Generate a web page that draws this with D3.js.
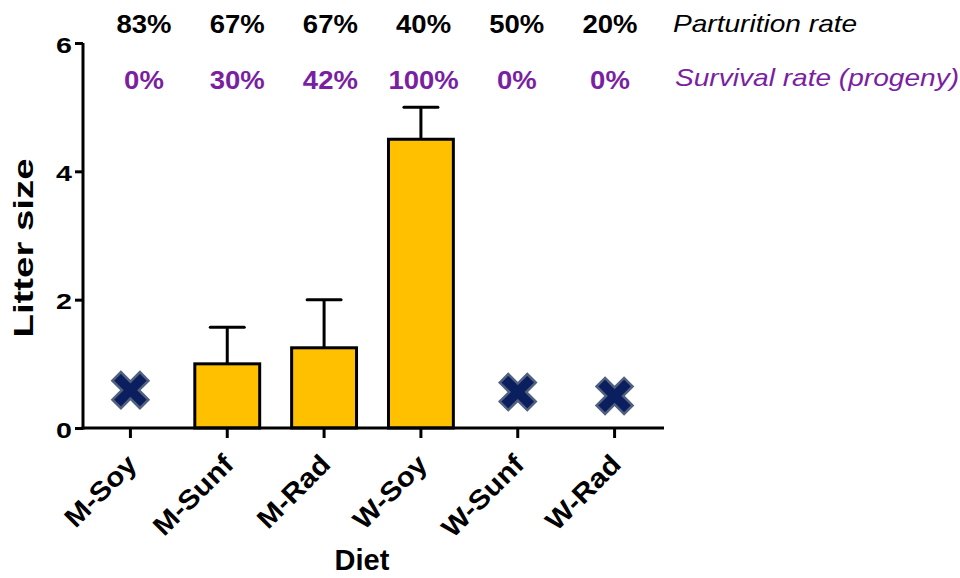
<!DOCTYPE html>
<html><head><meta charset="utf-8">
<script src="https://cdn.jsdelivr.net/npm/d3@7"></script>
<style>body{margin:0;background:#fff;} text{font-family:"Liberation Sans",Arial,sans-serif;}</style>
</head><body><svg id="c" width="960" height="578"></svg>
<script>
const categories = ["M-Soy","M-Sunf","M-Rad","W-Soy","W-Sunf","W-Rad"];
const litterSize = [null, 1.0, 1.25, 4.5, null, null];
const errorUpper = [null, 1.57, 2.0, 5.0, null, null];
const markerValues = [0.59, null, null, null, 0.56, 0.5];
const parturition = ["83%","67%","67%","40%","50%","20%"];
const survival = ["0%","30%","42%","100%","0%","0%"];
const yTicks = [0,2,4,6];

const svg = d3.select("#c");
const x = d3.scaleBand().domain(categories).range([82,663]).paddingInner(0.33).paddingOuter(0.165);
const xc = d => x(d) + x.bandwidth()/2;
const y = d3.scaleLinear().domain([0,6]).range([428,43]);
const xLab = d3.scalePoint().domain(categories).range([144,610]);

function stretch(sel, k){ sel.each(function(){ const L=this.getComputedTextLength(); d3.select(this).attr("textLength",L*k).attr("lengthAdjust","spacingAndGlyphs"); }); }

// bars
svg.selectAll("rect.bar").data(categories.filter((c,i)=>litterSize[i]!=null)).enter()
  .append("rect").attr("x",d=>x(d)).attr("width",x.bandwidth())
  .attr("y",d=>y(litterSize[categories.indexOf(d)]))
  .attr("height",d=>y(0)-y(litterSize[categories.indexOf(d)]))
  .attr("fill","#FFC000").attr("stroke","#000").attr("stroke-width",3);

// error bars
categories.forEach((c,i)=>{
  if(errorUpper[i]==null) return;
  svg.append("line").attr("x1",xc(c)).attr("x2",xc(c)).attr("y1",y(litterSize[i])).attr("y2",y(errorUpper[i])).attr("stroke","#000").attr("stroke-width",3);
  svg.append("line").attr("x1",xc(c)-17).attr("x2",xc(c)+17).attr("y1",y(errorUpper[i])).attr("y2",y(errorUpper[i])).attr("stroke","#000").attr("stroke-width",3).attr("stroke-linecap","round");
});

// X markers
categories.forEach((c,i)=>{
  if(markerValues[i]==null) return;
  const s=18, w=8.5;
  const p = `M${-s},${-s+w}L${-s+w},${-s}L0,${-w}L${s-w},${-s}L${s},${-s+w}L${w},0L${s},${s-w}L${s-w},${s}L0,${w}L${-s+w},${s}L${-s},${s-w}L${-w},0Z`;
  svg.append("path").attr("d",p).attr("transform",`translate(${xc(c)},${y(markerValues[i])})`)
    .attr("fill","#0B1F5E").attr("stroke","#52617F").attr("stroke-width",2.5).attr("stroke-linejoin","miter");
});

// axes
const yAxis = d3.axisLeft(y).tickValues(yTicks).tickFormat(d3.format("d")).tickSize(8).tickSizeOuter(0);
const gy = svg.append("g").attr("transform","translate(83,0)").call(yAxis);
gy.select(".domain").attr("stroke","#000").attr("stroke-width",3).attr("d","M0,43V429.5");
gy.selectAll(".tick line").attr("stroke","#000").attr("stroke-width",3);
gy.selectAll(".tick text").attr("font-size",22).attr("font-weight","bold").attr("fill","#000").attr("x",-11).attr("dy","0.42em").call(stretch,1.3);

const xAxis = d3.axisBottom(x).tickSize(10).tickSizeOuter(0);
const gx = svg.append("g").attr("transform","translate(0,428)").call(xAxis);
gx.select(".domain").attr("stroke","#000").attr("stroke-width",3).attr("d","M81.5,0H664");
gx.selectAll(".tick line").attr("stroke","#000").attr("stroke-width",3);
gx.selectAll(".tick text").attr("font-size",27).attr("font-weight","bold").attr("fill","#000")
  .attr("text-anchor","end").attr("dy",0).attr("y",0)
  .attr("transform","translate(8,38) rotate(-45)").call(stretch,1.1);

// axis titles
svg.append("text").attr("transform","translate(33,248) rotate(-90)").attr("text-anchor","middle")
  .attr("font-size",28).attr("font-weight","bold").text("Litter size").call(stretch,1.37);
svg.append("text").attr("x",362).attr("y",570).attr("text-anchor","middle")
  .attr("font-size",29).attr("font-weight","bold").text("Diet");

// top labels
svg.selectAll("text.part").data(categories).enter().append("text")
  .attr("x",d=>xLab(d)).attr("y",33).attr("text-anchor","middle").attr("font-size",25).attr("font-weight","bold")
  .attr("fill","#000").text((d,i)=>parturition[i]).call(stretch,1.1);
svg.selectAll("text.surv").data(categories).enter().append("text")
  .attr("x",d=>xLab(d)).attr("y",89).attr("text-anchor","middle").attr("font-size",25).attr("font-weight","bold")
  .attr("fill","#7B1FA2").text((d,i)=>survival[i]).call(stretch,1.1);
svg.append("text").attr("x",673).attr("y",32).attr("font-size",24).attr("font-style","italic").attr("fill","#000").text("Parturition rate").call(stretch,1.17);
svg.append("text").attr("x",675).attr("y",86).attr("font-size",24).attr("font-style","italic").attr("fill","#7B1FA2").text("Survival rate (progeny)").call(stretch,1.17);
</script></body></html>
